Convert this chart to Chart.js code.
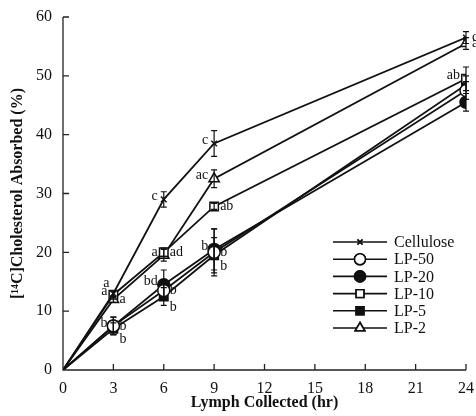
<!DOCTYPE html>
<html>
<head>
<meta charset="utf-8">
<script src="https://cdn.jsdelivr.net/npm/chart.js@4"></script>
<style>
  html, body { margin: 0; padding: 0; background: #fff; }
  #wrap { width: 476px; height: 416px; }
</style>
</head>
<body>
<div id="wrap"><canvas id="chart" width="476" height="416"></canvas></div>
<script>
// hours collected
var hours = [0, 3, 6, 9, 24];
var xTicks = [0, 3, 6, 9, 12, 15, 18, 21, 24];

// cumulative % absorbed, and SE
var cellulose = [0, 13, 29, 38.5, 56.5];
var cellErr = [0, 0.5, 1.3, 2.2, 1];
var lp50 = [0, 7.5, 13.5, 20, 47.5];
var lp50Err = [0, 1.5, 1.5, 4, 1.5];
var lp20 = [0, 7.5, 14.5, 20.5, 45.5];
var lp20Err = [0, 1.5, 2.5, 3.5, 1.5];
var lp10 = [0, 12.8, 20, 27.8, 49.5];
var lp10Err = [0, 0.5, 0.7, 0.5, 2];
var lp5 = [0, 7, 12.5, 19.5, 48.5];
var lp5Err = [0, 1, 1.5, 3, 1.5];
var lp2 = [0, 12, 19.5, 32.5, 55.5];
var lp2Err = [0, 0.5, 1, 1.5, 1];

// significance letters
var cellLetters = ['', 'a', 'c', 'c', 'c'];
var lp50Letters = ['', 'b', 'b', 'b', ''];
var lp20Letters = ['', 'b', 'bd', 'b', ''];
var lp10Letters = ['', 'a', 'ad', 'ab', 'ab'];
var lp5Letters = ['', 'b', 'b', 'b', ''];
var lp2Letters = ['', 'a', 'a', 'ac', 'a'];

var serif = '"Liberation Serif", "DejaVu Serif", serif';

var pts = function(vals){
    var out = [];
    for (var i = 0; i < hours.length; i++) out.push({x: hours[i], y: vals[i]});
    return out;
};

var mkSet = function(label, vals, err, letters, style, fill, radius, sides){
    return {
        label: label,
        data: pts(vals),
        err: err,
        letters: letters,
        letterSide: sides,
        markSize: radius,
        borderColor: '#111',
        borderWidth: 1.8,
        pointStyle: style,
        pointRadius: hours.map(function(h){ return h == 0 ? 0 : radius; }),
        pointBackgroundColor: fill,
        pointBorderColor: '#111',
        pointBorderWidth: 1.5,
        tension: 0
    };
};

// error bars + letters
var errorBars = {
    id: 'errorBars',
    afterDatasetsDraw: function(chart){
        var ctx = chart.ctx, xs = chart.scales.x, ys = chart.scales.y;
        ctx.save();
        chart.data.datasets.forEach(function(ds){
            ds.data.forEach(function(p, i){
                var e = ds.err[i];
                var px = xs.getPixelForValue(p.x);
                if (e > 0) {
                    var top = ys.getPixelForValue(p.y + e), bot = ys.getPixelForValue(p.y - e);
                    ctx.strokeStyle = '#111';
                    ctx.lineWidth = 1.2;
                    ctx.beginPath();
                    ctx.moveTo(px, top); ctx.lineTo(px, bot);
                    ctx.moveTo(px - 3, top); ctx.lineTo(px + 3, top);
                    ctx.moveTo(px - 3, bot); ctx.lineTo(px + 3, bot);
                    ctx.stroke();
                }
                var t = ds.letters[i];
                if (t) {
                    var py = ys.getPixelForValue(p.y);
                    var s = ds.letterSide[i];
                    ctx.fillStyle = '#111';
                    ctx.font = '14px ' + serif;
                    ctx.textBaseline = 'middle';
                    if (s == 'l') { ctx.textAlign = 'right'; ctx.fillText(t, px - 6, py - 3); }
                    else if (s == 'r') { ctx.textAlign = 'left'; ctx.fillText(t, px + 6, py); }
                    else if (s == 'd') { ctx.textAlign = 'left'; ctx.fillText(t, px + 6, py + 11); }
                    else { ctx.textAlign = 'right'; ctx.fillText(t, px - 4, py - 10); }
                }
            });
        });
        ctx.restore();
    }
};

// inward ticks
var innerTicks = {
    id: 'innerTicks',
    afterDraw: function(chart){
        var ctx = chart.ctx, xs = chart.scales.x, ys = chart.scales.y, a = chart.chartArea;
        ctx.save();
        ctx.strokeStyle = '#222';
        ctx.lineWidth = 1.3;
        ctx.beginPath();
        ctx.moveTo(a.left, a.top); ctx.lineTo(a.left, a.bottom); ctx.lineTo(a.right, a.bottom);
        xs.ticks.forEach(function(t){
            var px = xs.getPixelForValue(t.value);
            ctx.moveTo(px, a.bottom); ctx.lineTo(px, a.bottom - 6);
        });
        ys.ticks.forEach(function(t){
            var py = ys.getPixelForValue(t.value);
            ctx.moveTo(a.left, py); ctx.lineTo(a.left + 6, py);
        });
        ctx.stroke();
        ctx.restore();
    }
};

// line + marker legend
var lineLegend = {
    id: 'lineLegend',
    afterDraw: function(chart){
        var ctx = chart.ctx;
        var x0 = 333, x1 = 387, y = 242, step = 17.2;
        ctx.save();
        chart.data.datasets.forEach(function(ds, i){
            var yy = y + i * step;
            ctx.strokeStyle = '#111';
            ctx.lineWidth = 1.6;
            ctx.beginPath(); ctx.moveTo(x0, yy); ctx.lineTo(x1, yy); ctx.stroke();
            Chart.helpers.drawPoint(ctx, {
                pointStyle: ds.pointStyle,
                radius: ds.markSize - 0.5,
                borderWidth: 1.3,
                rotation: 0
            }, (x0 + x1) / 2, yy);
            ctx.fillStyle = ds.pointBackgroundColor;
            ctx.fill();
            ctx.stroke();
            ctx.fillStyle = '#111';
            ctx.font = '16px ' + serif;
            ctx.textAlign = 'left';
            ctx.textBaseline = 'middle';
            ctx.fillText(ds.label, x1 + 7, yy + 1);
        });
        ctx.restore();
    }
};

const data = {
    datasets: [
        mkSet('Cellulose', cellulose, cellErr, cellLetters, 'crossRot', '#111', 4, ['', 'u', 'l', 'l', 'r']),
        mkSet('LP-50', lp50, lp50Err, lp50Letters, 'circle', '#fff', 6, ['', 'r', 'r', 'r', '']),
        mkSet('LP-20', lp20, lp20Err, lp20Letters, 'circle', '#111', 6, ['', 'l', 'l', 'l', '']),
        mkSet('LP-10', lp10, lp10Err, lp10Letters, 'rect', '#fff', 6, ['', 'l', 'r', 'r', 'l']),
        mkSet('LP-5', lp5, lp5Err, lp5Letters, 'rect', '#111', 6, ['', 'd', 'd', 'd', '']),
        mkSet('LP-2', lp2, lp2Err, lp2Letters, 'triangle', '#fff', 6, ['', 'r', 'l', 'l', 'r'])
    ]
};

const config = {
    type: 'line',
    data: data,
    options: {
        responsive: false,
        animation: false,
        layout: { padding: { top: 17, right: 10, left: 0, bottom: 0 } },
        plugins: { legend: { display: false }, tooltip: { enabled: false } },
        scales: {
            x: {
                type: 'linear', min: 0, max: 24,
                afterBuildTicks: function(s){ s.ticks = xTicks.map(function(v){ return {value: v}; }); },
                afterFit: function(s){ s.height = 46; },
                grid: { display: false },
                border: { display: false },
                ticks: { color: '#111', font: { family: serif, size: 16 }, padding: 1 },
                title: { display: true, text: 'Lymph Collected (hr)', color: '#111',
                         font: { family: serif, size: 16, weight: 'bold' }, padding: { top: 0 } }
            },
            y: {
                min: 0, max: 60,
                afterFit: function(s){ s.width = 63; },
                grid: { display: false },
                border: { display: false },
                ticks: { stepSize: 10, color: '#111', font: { family: serif, size: 16 }, padding: 3 },
                title: { display: true, text: '[¹⁴C]Cholesterol Absorbed (%)', color: '#111',
                         font: { family: serif, size: 16, weight: 'bold' }, padding: { top: 8, bottom: 4 } }
            }
        }
    },
    plugins: [errorBars, innerTicks, lineLegend]
};

const myChart = new Chart(document.getElementById('chart'), config);
</script>
</body>
</html>
